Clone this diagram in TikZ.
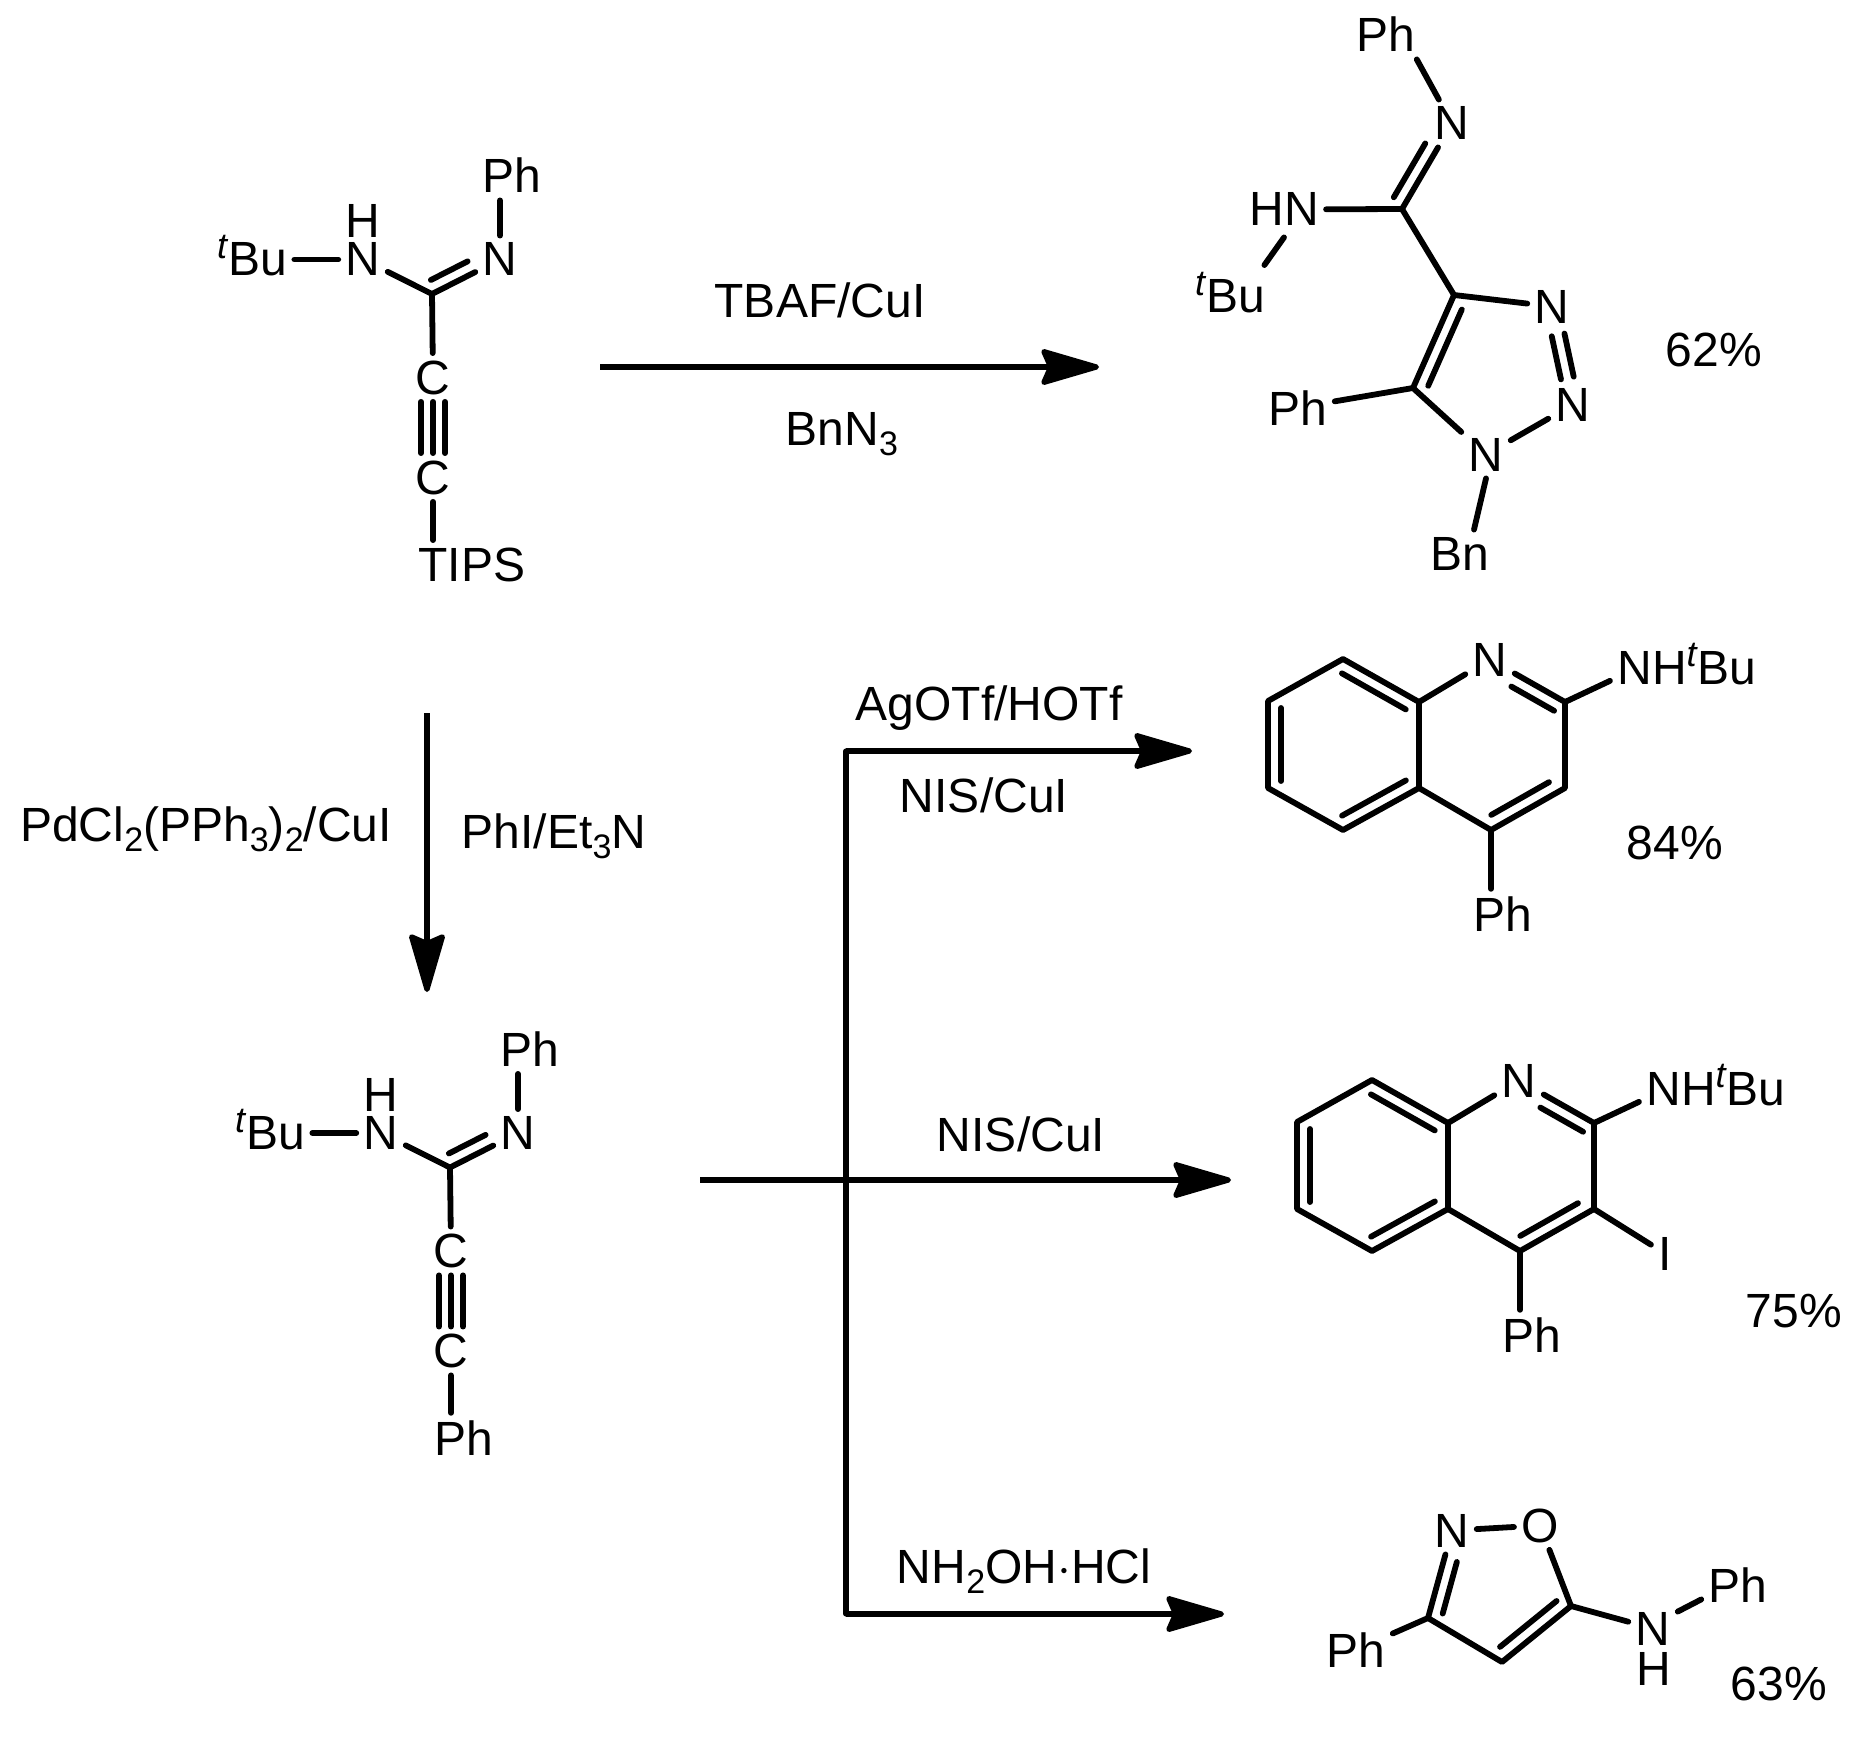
\documentclass[tikz,border=0pt]{standalone}
\usepackage{fontspec}
\setmainfont{Liberation Sans}
\usetikzlibrary{calc,arrows.meta}
\newcommand\tbutyl{\raisebox{0.36em}{\fontsize{18}{18}\selectfont\textit{t}}Bu}
\newcommand\lsub[1]{\raisebox{-0.22em}{\fontsize{17}{17}\selectfont #1}}
% double-bond inner line: [offset]{a}{b}{s1}{s2}{angle}
\newcommand\dbl[6][6.5pt]{\draw[bond] ($(#2)!#4!(#3)!#1!#6:(#3)$) -- ($(#2)!#5!(#3)!#1!#6:(#3)$);}
\tikzset{
  bond/.style={line width=2.9pt,line cap=round,black},
  rxn/.style={line width=2.6pt,black},
  rxnarrow/.style={rxn,-{Stealth[length=33pt,width=19pt,inset=4pt,round]}},
  lab/.style={anchor=base,inner sep=3.5pt,font=\fontsize{24}{24}\selectfont,text=black},
  txt/.style={anchor=base,inner sep=0pt,font=\fontsize{24}{24}\selectfont,text=black},
}
% amidine fragment
\newcommand\amidine[1]{%
  \node[lab] (#1ph) at (512,193) {Ph};
  \node[lab] (#1nb) at (500,276) {N};
  \node[txt] (#1h) at (363,238) {H};
  \node[lab] (#1na) at (363,276) {N};
  \node[lab] (#1tbu) at (252,276) {\tbutyl};
  \coordinate (#1v) at (432,294);
  \node[lab] (#1cu) at (433,394) {C};
  \node[lab] (#1cl) at (433,494) {C};
  \draw[bond] (#1nb) -- (#1nb |- #1ph.south);
  \draw[bond] (#1na) -- (#1na -| #1tbu.east);
  \draw[bond] (#1na) -- (#1v);
  \draw[bond] (#1v) -- (#1nb);
  \dbl{#1v}{#1nb}{0.07}{0.61}{90}
  \draw[bond] (#1v) -- (#1cu);
  \draw[bond] (#1cu.south) -- (#1cl.north);
  \draw[bond] ([xshift=6pt]#1cu.south) -- ([xshift=6pt]#1cl.north);
  \draw[bond] ([xshift=-6pt]#1cu.south) -- ([xshift=-6pt]#1cl.north);
}
% quinoline fragment
\newcommand\quinoline[1]{%
  \coordinate (#1a) at (1343,659);
  \coordinate (#1b) at (1268,701);
  \coordinate (#1c) at (1268,788);
  \coordinate (#1d) at (1343,830);
  \coordinate (#1e) at (1419,788);
  \coordinate (#1f) at (1419,702);
  \node[lab] (#1n) at (1490,676) {N};
  \coordinate (#1g) at (1565,702);
  \coordinate (#1i) at (1565,788);
  \coordinate (#1j) at (1491,830);
  \node[lab] (#1nh) at (1687,684) {NH\tbutyl};
  \node[lab] (#1ph) at (1503,931) {Ph};
  \draw[bond,line join=round] (#1f) -- (#1a) -- (#1b) -- (#1c) -- (#1d) -- (#1e) -- (#1f);
  \draw[bond] (#1f) -- (#1n);
  \draw[bond] (#1n) -- (#1g);
  \draw[bond,line join=round] (#1g) -- (#1i) -- (#1j) -- (#1e);
  \draw[bond] (#1g) -- ([yshift=5.5pt]#1nh.south west);
  \draw[bond] (#1j) -- (#1j |- #1ph.north);
  \dbl{#1a}{#1f}{0.07}{0.91}{-90}
  \dbl{#1b}{#1c}{0.08}{0.92}{90}
  \dbl{#1d}{#1e}{0.07}{0.91}{90}
  \dbl{#1j}{#1i}{0.09}{0.87}{90}
  \dbl{#1n}{#1g}{0.37}{0.94}{-90}
}
\begin{document}
\begin{tikzpicture}[x=0.5pt,y=-0.5pt]
\useasboundingbox (0,0) rectangle (1868,1739);
% starting amidine
\amidine{s}
\node[lab] (stips) at (472,581) {TIPS};
\draw[bond] (scl.south) -- (scl.south |- stips.north);
% coupled amidine
\begin{scope}[shift={(18,873.5)}]
  \amidine{m}
\end{scope}
\node[lab] (mend) at (464,1455) {Ph};
\draw[bond] (mcl.south) -- (mcl.south |- mend.north);
% triazole product
\node[lab] (pph) at (1386,52) {Ph};
\node[lab] (pn) at (1452,140) {N};
\coordinate (pv) at (1402,209);
\node[lab] (phn) at (1284,226) {HN};
\node[lab] (ptbu) at (1230,313) {\tbutyl};
\coordinate (pc) at (1454,295);
\coordinate (pd) at (1413,388);
\node[lab] (pna) at (1552,323) {N};
\node[lab] (pnb) at (1573,421) {N};
\node[lab] (pnc) at (1486,471) {N};
\node[lab] (pphl) at (1298,425) {Ph};
\node[lab] (pbn) at (1460,570) {Bn};
\node[txt] (pyield) at (1714,366) {62\%};
\draw[bond] ([xshift=-3pt]pph.south east) -- (pn);
\draw[bond] (pv) -- (pn);
\dbl{pv}{pn}{0.06}{0.69}{90}
\draw[bond] (phn) -- (pv);
\draw[bond] ([yshift=-2pt]phn.south) -- ([xshift=-4pt]ptbu.north east);
\draw[bond] (pv) -- (pc);
\draw[bond] (pc) -- (pna);
\dbl[3.25pt]{pna}{pnb}{0.29}{0.73}{90}
\dbl[3.25pt]{pna}{pnb}{0.29}{0.73}{-90}
\draw[bond] (pnb) -- (pnc);
\draw[bond] (pnc) -- (pd);
\draw[bond] (pd) -- (pc);
\dbl{pc}{pd}{0.1}{0.92}{90}
\draw[bond] (pphl) -- (pd);
\draw[bond] (pnc.south) -- ([xshift=7pt]pbn.north);
% quinolines
\quinoline{q}
\node[txt] (qyield) at (1675,859) {84\%};
\begin{scope}[shift={(29,421)}]
  \quinoline{r}
  \node[lab] (riodo) at (1636,849) {I};
\end{scope}
\draw[bond] (ri) -- (riodo);
\node[txt] (ryield) at (1794,1327) {75\%};
% isoxazole
\node[lab] (xn) at (1452,1547) {N};
\node[lab] (xo) at (1540,1542) {O};
\coordinate (xc) at (1428,1618);
\coordinate (xd) at (1502,1662);
\coordinate (xe) at (1571,1606);
\node[lab] (xphl) at (1356,1667) {Ph};
\node[lab] (xnh) at (1653,1645) {N};
\node[txt] (xh) at (1654,1685) {H};
\node[lab] (xphr) at (1738,1602) {Ph};
\node[txt] (xyield) at (1779,1700) {63\%};
\draw[bond] (xn) -- (xo);
\draw[bond] (xo) -- (xe);
\draw[bond,line join=round] (xe) -- (xd) -- (xc);
\draw[bond] (xc) -- (xn);
\dbl{xc}{xn}{0.09}{0.68}{-90}
\dbl{xd}{xe}{0.09}{0.91}{90}
\draw[bond] (xphl) -- (xc);
\draw[bond] (xe) -- (xnh);
\draw[bond] ([yshift=-3.5pt]xnh.north east) -- ([yshift=5pt]xphr.south west);
% arrows
\coordinate (a1s) at (600,367);
\coordinate (a1e) at (1099,367);
\draw[rxnarrow] (a1s) -- (a1e);
\node[txt] (l1) at (820,317) {TBAF/CuI};
\node[txt] (l2) at (842,445) {BnN\lsub{3}};
\coordinate (a2s) at (427,713);
\coordinate (a2e) at (427,992);
\draw[rxnarrow] (a2s) -- (a2e);
\node[txt] (l3) at (206,841) {PdCl\lsub{2}(PPh\lsub{3})\lsub{2}/CuI};
\node[txt] (l4) at (554,848) {PhI/Et\lsub{3}N};
\coordinate (bt) at (846,751);
\coordinate (bb) at (846,1614);
\coordinate (bte) at (1192,751);
\coordinate (bms) at (700,1180);
\coordinate (bme) at (1231,1180);
\coordinate (bbe) at (1224,1614);
\draw[rxn,line cap=round] (bt) -- (bb);
\draw[rxnarrow] (bt) -- (bte);
\draw[rxnarrow] (bms) -- (bme);
\draw[rxnarrow] (bb) -- (bbe);
\node[txt] (l5) at (989,720) {AgOTf/HOTf};
\node[txt] (l6) at (984,812) {NIS/CuI};
\node[txt] (l7) at (1021,1151) {NIS/CuI};
\node[txt] (l8) at (1024,1583) {NH\lsub{2}OH$\cdot$HCl};
\end{tikzpicture}
\end{document}
